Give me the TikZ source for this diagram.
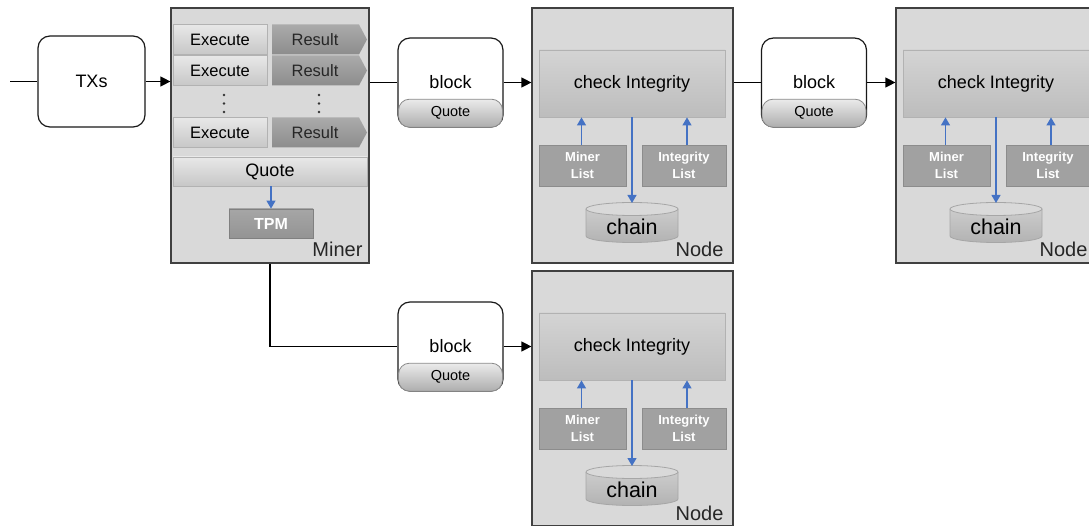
\documentclass[tikz,border=0pt]{standalone}
\usepackage{fontspec}
\setmainfont{Liberation Sans}
\usetikzlibrary{arrows.meta}
\definecolor{boxbg}{HTML}{D9D9D9}
\definecolor{boxline}{HTML}{404040}
\definecolor{bluearr}{HTML}{4472C4}
\newcommand\fsz[2]{\fontsize{#1}{#2}\selectfont}
\begin{document}
\begin{tikzpicture}[x=1pt,y=-1pt,
  outerbox/.style={draw=boxline, line width=1.2pt, fill=boxbg, inner sep=0pt},
  rbox/.style={draw=black!90, line width=1.2pt, rounded corners=12pt, fill=white, inner sep=0pt},
  pillbox/.style={draw=black!45, line width=0.8pt, rounded corners=11pt, top color=black!8, bottom color=black!32, inner sep=0pt, minimum width=104pt, minimum height=28pt, font=\fsz{14.5}{16}},
  execbox/.style={draw=black!30, line width=0.8pt, top color=black!9, bottom color=black!22, inner sep=0pt, minimum width=94pt, minimum height=30pt, font=\fsz{16.5}{18}},
  resshape/.style={top color=black!33, bottom color=black!45},
  restext/.style={font=\fsz{16.5}{18}, text=black!85},
  cibox/.style={draw=black!30, line width=0.8pt, top color=black!17, bottom color=black!26, inner sep=0pt, minimum width=186pt, minimum height=67pt, font=\fsz{18}{20}},
  listbox/.style={draw=black!45, line width=0.8pt, fill=black!37, text=white, inner sep=0pt, minimum height=41pt, align=center, font=\bfseries\fsz{13}{17}},
  blarr/.style={draw=bluearr, line width=1.2pt, -{Triangle[length=8pt,width=9pt]}},
  bkarr/.style={draw=black, line width=1.2pt, -{Triangle[length=10pt,width=10pt]}},
  bkline/.style={draw=black, line width=1.2pt},
  lab/.style={anchor=base east, font=\fsz{20}{22}, text=black!85}
]
\useasboundingbox (0,0) rectangle (1089,526);
\clip (0,0) rectangle (1089,526);

% TXs
\coordinate (start) at (10,81.5);
\node[rbox, minimum width=107pt, minimum height=91pt, font=\fsz{18}{20}] (txs) at (91.5,81.5) {TXs};

% Miner
\node[outerbox, minimum width=198pt, minimum height=255pt] (miner) at (270,135.5) {};
\node[execbox] (ex1) at (220,39.5) {Execute};
\node[execbox] (ex2) at (220,70.5) {Execute};
\node[execbox] (ex3) at (220,132.5) {Execute};
\foreach \i/\yy in {1/39.5, 2/70.5, 3/132.5}{
  \shade[resshape] (272,\yy-15) -- (359,\yy-15) -- (367,\yy) -- (359,\yy+15) -- (272,\yy+15) -- cycle;
  \node[restext] (ret\i) at (315,\yy) {Result};
}
\foreach \xx in {224,319}{
  \foreach \yy in {95,103.5,112}{
    \fill[black!80] (\xx,\yy) circle (1.3pt);
  }
}
\node[draw=black!30, line width=0.8pt, top color=black!9, bottom color=black!22, inner sep=0pt, minimum width=194pt, minimum height=29pt, font=\fsz{18}{20}] (mq) at (270,171.5) {Quote};
\node[draw=black!50, line width=0.8pt, top color=black!35, bottom color=black!42, text=white, inner sep=0pt, minimum width=84pt, minimum height=29pt, font=\bfseries\fsz{16}{18}] (tpm) at (271,223.5) {TPM};
\draw[blarr] (mq.south -| tpm.north) -- (tpm.north);
\node[lab] (minerlab) at (366,257) {Miner};

% blocks
\foreach \n/\cx/\cy in {1/450.5/82.5, 2/814/82.5, 3/450.5/346.5}{
  \node[rbox, minimum width=105pt, minimum height=89pt] (b\n) at (\cx,\cy) {};
  \node[font=\fsz{18}{20}] (bt\n) at (\cx,\cy) {block};
  \node[pillbox, anchor=south] (bq\n) at (b\n.south) {Quote};
}

% node groups
\foreach \n/\dx/\dy in {1/0/0, 2/364/0, 3/0/263}{
  \begin{scope}[shift={(\dx,\dy)}]
    \node[outerbox, minimum width=201pt, minimum height=255pt] (n\n) at (632.5,135.5) {};
    \node[cibox] (ci\n) at (632,83.5) {check Integrity};
    \node[listbox, minimum width=87pt] (ml\n) at (582.5,165.5) {Miner\\List};
    \node[listbox, minimum width=84pt] (il\n) at (684,165.5) {Integrity\\List};
    \draw[blarr] ([xshift=-1pt]ml\n.north) -- ([xshift=-1pt]ml\n.north |- ci\n.south);
    \draw[blarr] ([xshift=3pt]il\n.north) -- ([xshift=3pt]il\n.north |- ci\n.south);
    % chain cylinder
    \shade[top color=black!20, bottom color=black!30] (586,209) -- (586,236) arc[start angle=180,end angle=360,x radius=46pt,y radius=6.5pt] -- (678,209) -- cycle;
    \draw[black!35, line width=0.8pt] (586,209) -- (586,236) arc[start angle=180,end angle=360,x radius=46pt,y radius=6.5pt] -- (678,209);
    \draw[black!35, line width=0.8pt, fill=black!15] (632,209) ellipse [x radius=46pt, y radius=6.5pt];
    \coordinate (cht\n) at (632,203);
    \node[font=\fsz{21.5}{23}] (ch\n) at (632,227) {chain};
    \draw[blarr] (ci\n.south) -- (cht\n);
    \node[lab] (nl\n) at (727,257) {Node};
  \end{scope}
}

% connectors
\draw[bkline] (start) -- (txs.west);
\draw[bkarr] (txs.east) -- (miner.west |- txs.east);
\draw[bkline] (miner.east |- b1.west) -- (b1.west);
\draw[bkarr] (b1.east) -- (n1.west |- b1.east);
\draw[bkline] (n1.east |- b2.west) -- (b2.west);
\draw[bkarr] (b2.east) -- (n2.west |- b2.east);
\draw[bkline] (miner.south) |- (b3.west);
\draw[bkarr] (b3.east) -- (n3.west |- b3.east);
\end{tikzpicture}
\end{document}
